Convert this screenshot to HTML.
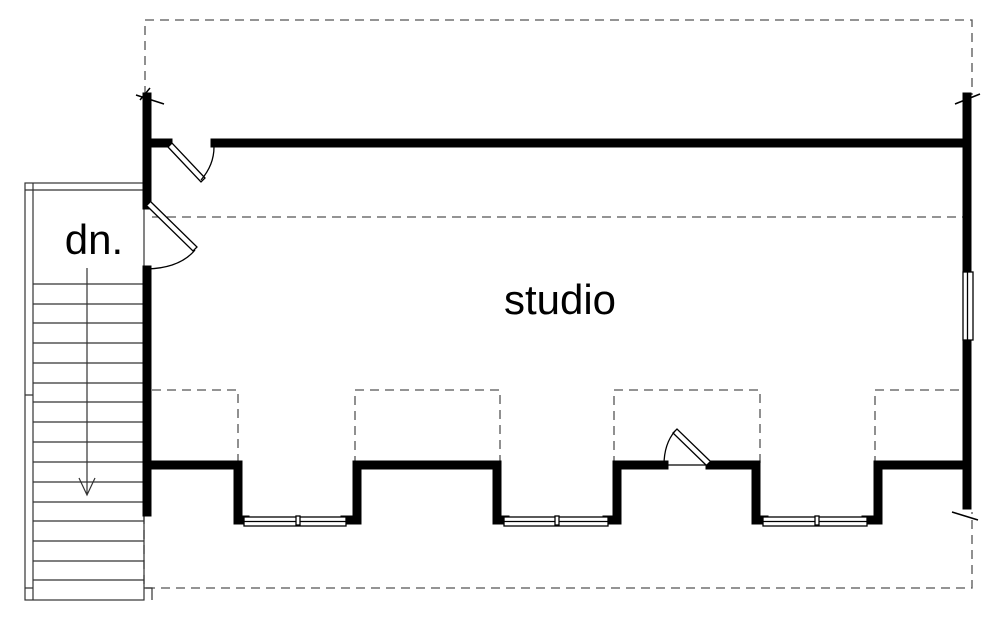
<!DOCTYPE html>
<html><head><style>html,body{margin:0;padding:0;background:#fff;width:1000px;height:619px;overflow:hidden}</style></head>
<body>
<svg width="1000" height="619" viewBox="0 0 1000 619" xmlns="http://www.w3.org/2000/svg">
<g fill="none" stroke="#555" stroke-width="1.3" stroke-dasharray="9,6">
<path d="M145 95 V20 H972 V95"/>
<path d="M152 217 H963"/>
<path d="M152 390 H238 V465 M355 465 V390 H500 V465 M614 465 V390 H760 V465 M875 465 V390 H963"/>
<path d="M144 515 V588 H972 V512"/>
</g>
<!-- stair -->
<g stroke="#333" stroke-width="1.2" fill="none">
<rect x="25" y="183" width="119" height="417"/>
<path d="M33 183 V600 M25 190 H144 M25 395 H33 M25 588 H33 M144 588 H152 V600"/>
<path d="M33 284 H144 M33 304 H144 M33 323 H144 M33 343 H144 M33 363 H144 M33 383 H144 M33 402 H144 M33 422 H144 M33 442 H144 M33 462 H144 M33 482 H144 M33 502 H144 M33 521 H144 M33 541 H144 M33 561 H144 M33 580 H144"/>
<path d="M87 268 V495 M79 478 L87 495 L95 478"/>
</g>
<!-- walls -->
<g stroke="#000" stroke-width="9" fill="none" stroke-linecap="square">
<path d="M147 97 V205 M147 270 V512"/>
<path d="M967 97 V272 M967 340 V505"/>
<path d="M151 143 H168 M215 143 H963"/>
<path d="M151 465 H238 V520 H245 M345 520 H357 V465 H497 V520 H505 M607 520 H617 V465 H664 M710 465 H756 V520 H764 M866 520 H878 V465 H963"/>
</g>
<g stroke="#000" stroke-width="1.5" fill="none">
<path d="M136 95 L164 104 M955 104 L980 94 M952 512 L978 520 M140 100 L150 88"/>
</g>
<!-- windows -->
<g stroke="#000" stroke-width="1.3" fill="#fff">
<rect x="244" y="517" width="102" height="9"/><path d="M244 521.5 H346"/><rect x="296" y="516" width="4" height="9"/>
<rect x="504" y="517" width="104" height="9"/><path d="M504 521.5 H608"/><rect x="555" y="516" width="4" height="9"/>
<rect x="763" y="517" width="104" height="9"/><path d="M763 521.5 H867"/><rect x="815" y="516" width="4" height="9"/>
<rect x="963" y="272" width="10" height="68"/><path d="M967.5 272 V340"/>
</g>
<!-- doors -->
<g stroke="#000" stroke-width="1.3" fill="none">
<path d="M168 147 L201 182 L205 178 L172 143 Z" fill="#fff"/>
<path d="M201 180 Q214 165 214 147"/>
<path d="M147 206 L193 251 L197 247 L151 202" fill="#fff"/>
<path d="M195 250 Q180 268 147 269"/>
<path d="M710 461 L677 429 L673 433 L706 465" fill="#fff"/>
<path d="M675 431 Q664 444 664 465 H710"/>
</g>
<text x="560" y="314" font-family="Liberation Sans, sans-serif" font-size="42" text-anchor="middle" fill="#000">studio</text>
<text x="94" y="254" font-family="Liberation Sans, sans-serif" font-size="42" text-anchor="middle" fill="#000">dn.</text>
</svg>
</body></html>
